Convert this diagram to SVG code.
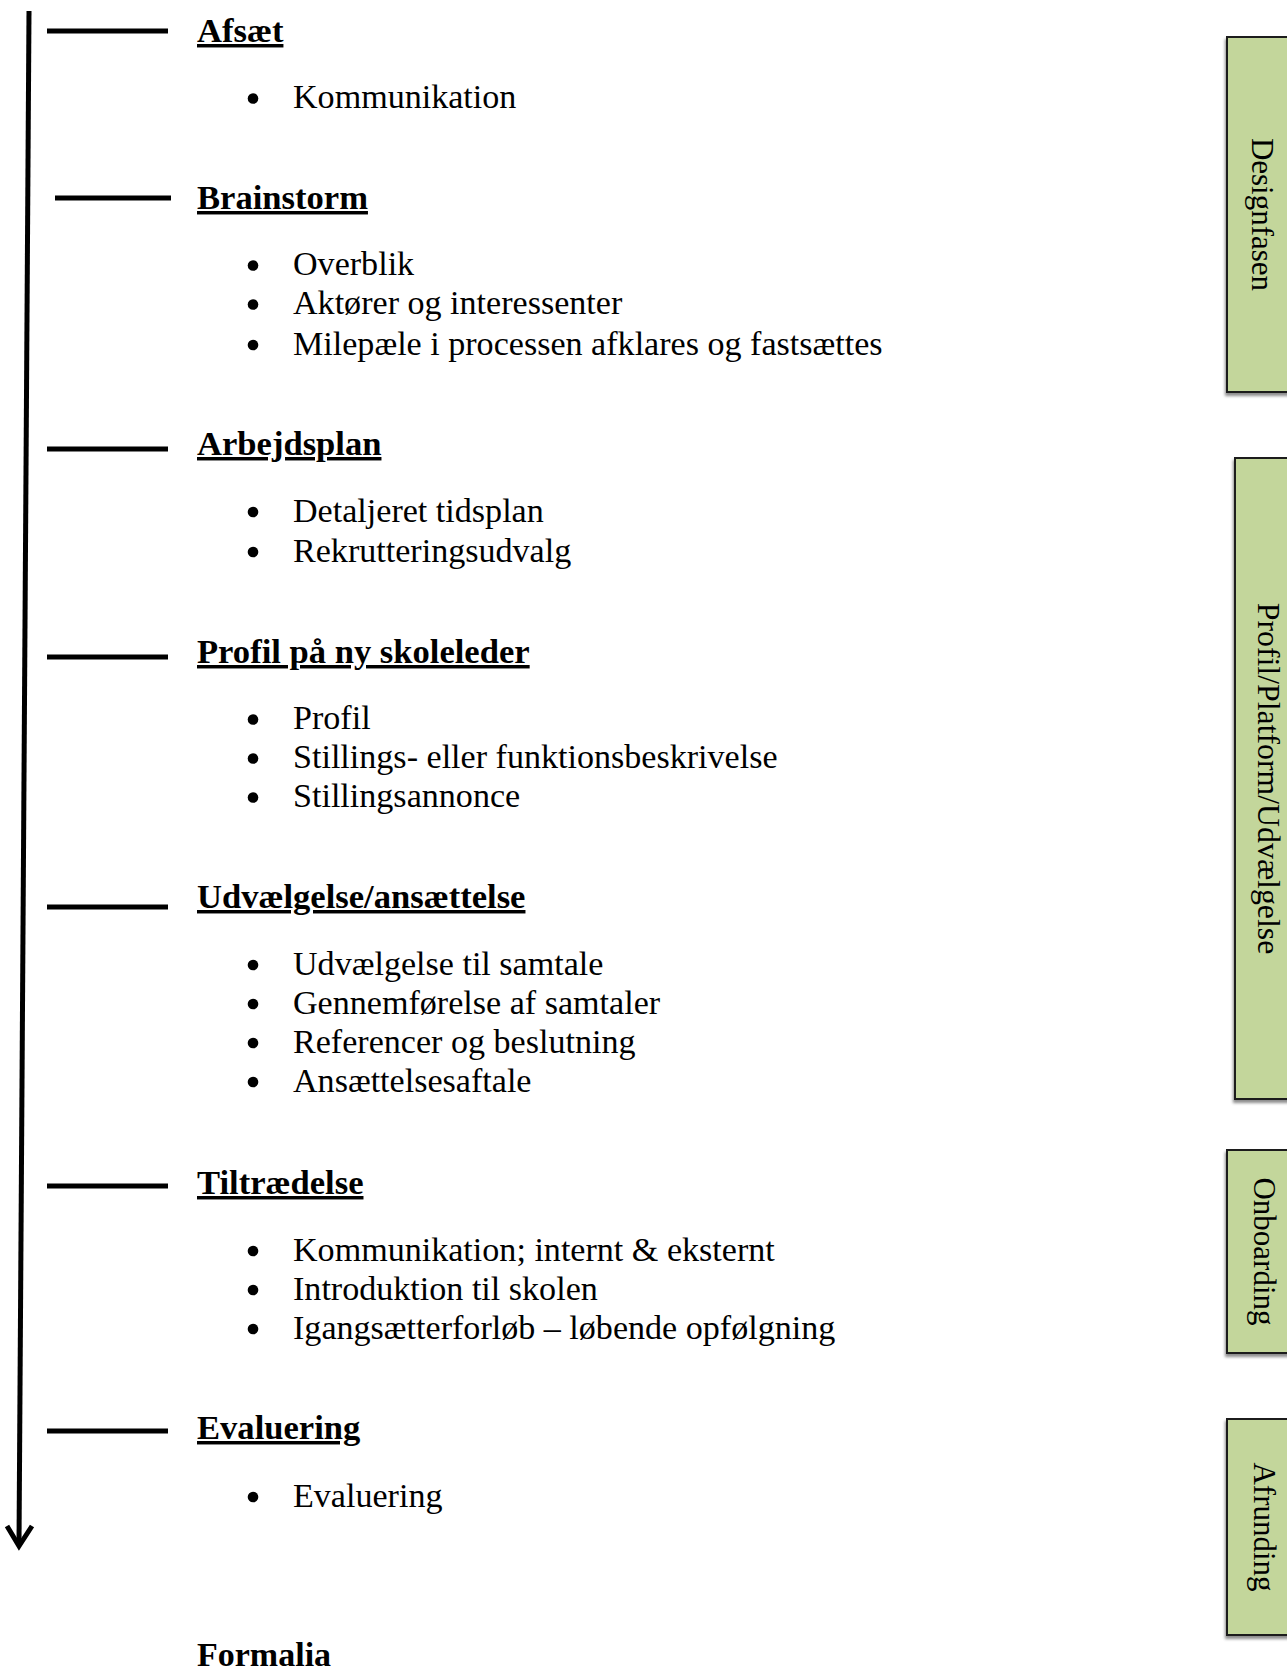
<svg xmlns="http://www.w3.org/2000/svg" width="1287" height="1674" viewBox="0 0 1287 1674">
<defs>
<style>
.h{font-family:"Liberation Serif","Times New Roman",serif;font-weight:bold;font-size:34.6px;fill:#000;text-decoration:underline;}
.f{font-family:"Liberation Serif","Times New Roman",serif;font-weight:bold;font-size:34px;fill:#000;}
.b{font-family:"Liberation Serif","Times New Roman",serif;font-size:34.1px;fill:#000;}
.v{font-family:"Liberation Serif","Times New Roman",serif;font-size:31px;fill:#000;}
.tick{stroke:#000;stroke-width:5;fill:none;}
.dot{fill:#000;}
.box{fill:#C3D69B;stroke:#1a1a1a;stroke-width:2;}
</style>
<filter id="sh" x="-20%" y="-5%" width="140%" height="110%">
<feDropShadow dx="-1" dy="3" stdDeviation="1.5" flood-color="#000" flood-opacity="0.45"/>
</filter>
</defs>
<rect width="1287" height="1674" fill="#fff"/>

<g id="connectors">
<path d="M29 11 L19 1544" stroke="#000" stroke-width="5" fill="none"/>
<path d="M7 1526 L19 1546 L32 1526" stroke="#000" stroke-width="5" fill="none" stroke-linejoin="miter"/>
<line class="tick" x1="47" y1="31" x2="168" y2="31"/>
<line class="tick" x1="55" y1="198" x2="171" y2="198"/>
<line class="tick" x1="47" y1="449" x2="168" y2="449"/>
<line class="tick" x1="47" y1="657" x2="168" y2="657"/>
<line class="tick" x1="47" y1="907" x2="168" y2="907"/>
<line class="tick" x1="47" y1="1186" x2="168" y2="1186"/>
<line class="tick" x1="47" y1="1431" x2="168" y2="1431"/>
</g>

<g id="afsaet">
<text class="h" x="197" y="42">Afsæt</text>
<circle class="dot" cx="253" cy="98.5" r="5.3"/>
<text class="b" x="293" y="108">Kommunikation</text>
</g>

<g id="brainstorm">
<text class="h" x="197" y="209">Brainstorm</text>
<circle class="dot" cx="253" cy="265.5" r="5.3"/>
<text class="b" x="293" y="275">Overblik</text>
<circle class="dot" cx="253" cy="304.5" r="5.3"/>
<text class="b" x="293" y="314">Aktører og interessenter</text>
<circle class="dot" cx="253" cy="345" r="5.3"/>
<text class="b" x="293" y="354.5">Milepæle i processen afklares og fastsættes</text>
</g>

<g id="arbejdsplan">
<text class="h" x="197" y="455">Arbejdsplan</text>
<circle class="dot" cx="253" cy="512" r="5.3"/>
<text class="b" x="293" y="521.5">Detaljeret tidsplan</text>
<circle class="dot" cx="253" cy="552" r="5.3"/>
<text class="b" x="293" y="561.5">Rekrutteringsudvalg</text>
</g>

<g id="profil">
<text class="h" x="197" y="663">Profil på ny skoleleder</text>
<circle class="dot" cx="253" cy="719.5" r="5.3"/>
<text class="b" x="293" y="729">Profil</text>
<circle class="dot" cx="253" cy="758.5" r="5.3"/>
<text class="b" x="293" y="768">Stillings- eller funktionsbeskrivelse</text>
<circle class="dot" cx="253" cy="797.5" r="5.3"/>
<text class="b" x="293" y="807">Stillingsannonce</text>
</g>

<g id="udvaelgelse">
<text class="h" x="197" y="908">Udvælgelse/ansættelse</text>
<circle class="dot" cx="253" cy="965" r="5.3"/>
<text class="b" x="293" y="974.5">Udvælgelse til samtale</text>
<circle class="dot" cx="253" cy="1004" r="5.3"/>
<text class="b" x="293" y="1013.5">Gennemførelse af samtaler</text>
<circle class="dot" cx="253" cy="1043" r="5.3"/>
<text class="b" x="293" y="1052.5">Referencer og beslutning</text>
<circle class="dot" cx="253" cy="1082" r="5.3"/>
<text class="b" x="293" y="1091.5">Ansættelsesaftale</text>
</g>

<g id="tiltraedelse">
<text class="h" x="197" y="1194">Tiltrædelse</text>
<circle class="dot" cx="253" cy="1251" r="5.3"/>
<text class="b" x="293" y="1260.5">Kommunikation; internt &amp; eksternt</text>
<circle class="dot" cx="253" cy="1290" r="5.3"/>
<text class="b" x="293" y="1299.5">Introduktion til skolen</text>
<circle class="dot" cx="253" cy="1329" r="5.3"/>
<text class="b" x="293" y="1338.5">Igangsætterforløb – løbende opfølgning</text>
</g>

<g id="evaluering">
<text class="h" x="197" y="1439">Evaluering</text>
<circle class="dot" cx="253" cy="1497" r="5.3"/>
<text class="b" x="293" y="1506.5">Evaluering</text>
</g>

<g id="formalia">
<text class="f" x="197" y="1666">Formalia</text>
</g>

<g id="designfasen">
<rect class="box" filter="url(#sh)" x="1227" y="37" width="100" height="355"/>
<text class="v" transform="translate(1262 214.5) rotate(90)" text-anchor="middle" dominant-baseline="central">Designfasen</text>
</g>

<g id="profil-platform">
<rect class="box" filter="url(#sh)" x="1235" y="458" width="100" height="641"/>
<text class="v" style="font-size:31.8px" transform="translate(1268 778.5) rotate(90)" text-anchor="middle" dominant-baseline="central">Profil/Platform/Udvælgelse</text>
</g>

<g id="onboarding">
<rect class="box" filter="url(#sh)" x="1227" y="1150" width="100" height="203"/>
<text class="v" transform="translate(1264 1251.5) rotate(90)" text-anchor="middle" dominant-baseline="central">Onboarding</text>
</g>

<g id="afrunding">
<rect class="box" filter="url(#sh)" x="1227" y="1419" width="100" height="216"/>
<text class="v" transform="translate(1264 1527) rotate(90)" text-anchor="middle" dominant-baseline="central">Afrunding</text>
</g>
</svg>
